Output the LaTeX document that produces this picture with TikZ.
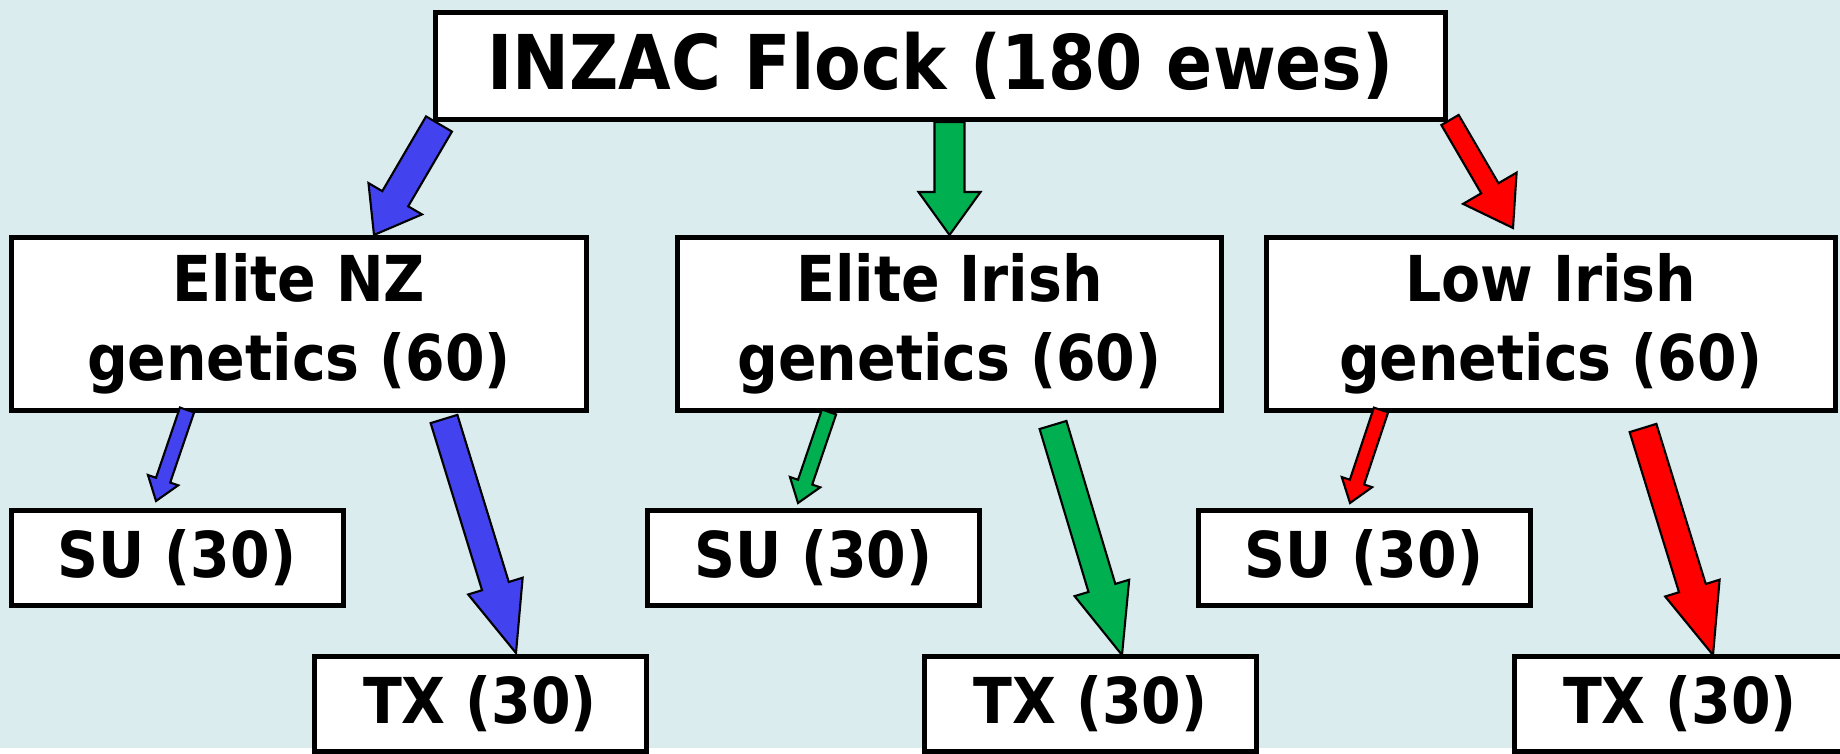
\documentclass[tikz,border=0pt]{standalone}
\usepackage{fontspec}
\newfontfamily\comicfont{DejaVu Sans Condensed Bold}
\usepackage{tikz}
\usetikzlibrary{calc}
\definecolor{sheet}{RGB}{218,236,238}
\definecolor{nzblue}{RGB}{66,66,238}
\definecolor{eigreen}{RGB}{0,176,80}
\definecolor{lired}{RGB}{255,0,0}
\tikzset{%
	box/.style={
		rectangle,
		draw=black,
		fill=white,
		line width=0.5mm,
		align=center,
		inner sep=0pt
	},
	box-top/.style={
		minimum width=101mm,
		minimum height=10.7mm,
		font=\comicfont\fontsize{21.5}{26}\selectfont
	},
	box-mid/.style={
		minimum height=17.3mm,
		font=\comicfont\fontsize{18}{22.5}\selectfont
	},
	box-low/.style={
		minimum width=33.2mm,
		minimum height=9.5mm,
		font=\comicfont\fontsize{18}{22.5}\selectfont
	},
}
% #1 tail, #2 tip, #3 half shaft, #4 half head, #5 head length, #6 colour
\newcommand{\fatarrow}[6]{%
	\coordinate (neck) at ($(#2)!#5!(#1)$);
	\filldraw[fill=#6, draw=black, line width=0.6pt, line join=miter]
		($(#1)!#3!90:(#2)$) -- ($(neck)!#3!90:(#2)$) -- ($(neck)!#4!90:(#2)$)
		-- (#2) -- ($(neck)!#4!-90:(#2)$) -- ($(neck)!#3!-90:(#2)$)
		-- ($(#1)!#3!-90:(#2)$) -- cycle;
}

\begin{document}
\begin{tikzpicture}[x=0.1mm, y=-0.1mm]
\useasboundingbox (0,0) rectangle (1840,754);
\fill[sheet] (0,0) rectangle (1840,748);

% boxes
\node[box, box-top] (flock) at (940.5,66) {INZAC Flock (180 ewes)};
\foreach \n/\x/\w/\t in {nz/299/57.5/Elite NZ, ei/949.5/54.4/Elite Irish, li/1551/56.9/Low Irish}
	\node[box, box-mid, minimum width=\w mm] (\n) at (\x,324) {\t\\genetics (60)};
\foreach \n/\x in {nz/177, ei/813.5, li/1364}
	\node[box, box-low] (su-\n) at (\x,558) {SU (30)};
\foreach \n/\x in {nz/480, ei/1090.5, li/1680}
	\node[box, box-low] (tx-\n) at (\x,704) {TX (30)};

% arrow ends
\coordinate (a-nz) at ($(flock.south west)+(6,2)$);
\coordinate (b-nz) at ($(nz.north)+(75,0)$);
\coordinate (a-ei) at (flock.south -| ei.north);
\coordinate (b-ei) at (ei.north);
\coordinate (a-li) at ($(flock.south east)+(2,-2)$);
\coordinate (b-li) at ($(li.north)+(-38,-7)$);
\foreach \n/\sx/\sy/\ux/\uy/\tx/\ty/\vx/\vy in {nz/-112/-3/-21/-7/145/6/36/-1, ei/-120.5/-1/-15.5/-5/103.5/12/31.5/1, li/-170/-3/-14/-5/92/15/33/1} {
	\coordinate (a-su-\n) at ($(\n.south)+(\sx,\sy)$);
	\coordinate (b-su-\n) at ($(su-\n.north)+(\ux,\uy)$);
	\coordinate (a-tx-\n) at ($(\n.south)+(\tx,\ty)$);
	\coordinate (b-tx-\n) at ($(tx-\n.north)+(\vx,\vy)$);
}

% connections
\fatarrow{a-nz}{b-nz}{1.5mm}{3.1mm}{4.2mm}{nzblue}
\fatarrow{a-ei}{b-ei}{1.5mm}{3.1mm}{4.3mm}{eigreen}
\fatarrow{a-li}{b-li}{1.0mm}{3.1mm}{4.6mm}{lired}
\foreach \n/\c in {nz/nzblue, ei/eigreen, li/lired} {
	\fatarrow{a-su-\n}{b-su-\n}{0.75mm}{1.6mm}{2.2mm}{\c}
	\fatarrow{a-tx-\n}{b-tx-\n}{1.4mm}{2.85mm}{7mm}{\c}
}

\end{tikzpicture}
\end{document}
